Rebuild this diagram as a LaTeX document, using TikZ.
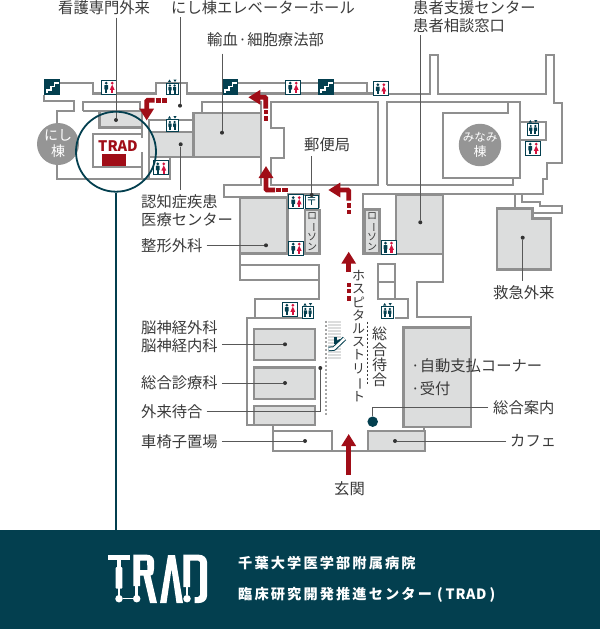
\documentclass[tikz,border=0pt]{standalone}
\usepackage{fontspec}
\setmainfont{Noto Sans CJK JP}
\usepackage{tikz}
\usetikzlibrary{arrows.meta}
\definecolor{wallcol}{HTML}{8F8F8F}
\definecolor{roomcol}{HTML}{DCDDDD}
\definecolor{tealcol}{HTML}{033F4F}
\definecolor{redcol}{HTML}{A00D17}
\definecolor{pinkcol}{HTML}{D3123E}
\definecolor{textcol}{HTML}{3A3A3A}
\newcommand{\choon}{\rotatebox[origin=c]{-90}{ー}}
\tikzset{
  wall/.style={draw=wallcol, line width=2.2pt, line join=miter},
  room/.style={draw=wallcol, fill=roomcol, line width=2.4pt},
  label/.style={font=\fontsize{15.3}{18}\selectfont, text=textcol, inner sep=0pt, align=left},
  vstack/.style={text=textcol, inner sep=0pt, align=center},
  leader/.style={draw=textcol!85, line width=0.8pt},
  dotmark/.style={circle, fill=black!80, inner sep=0pt, minimum size=4pt},
  redarrow/.style={draw=redcol, line width=4.8pt, rounded corners=1pt, -{Triangle[width=14pt,length=12pt]}},
  reddash/.style={draw=redcol, line width=4.4pt},
  wing/.style={circle, fill=wallcol!95, inner sep=0pt, minimum size=42pt, text=white, align=center},
  bandtext/.style={anchor=west, inner sep=0pt, text=white, font=\fontsize{14.2}{14.2}\selectfont\bfseries},
  toiletsign/.pic={
    \draw[tealcol, fill=white, line width=0.8pt] (0,0) rectangle (15,14);
    \fill[tealcol] (4.5,3.2) circle (1.5);
    \fill[tealcol, rounded corners=0.6pt] (2.6,5) rectangle (6.4,9.6);
    \fill[tealcol] (3.4,9) rectangle (5.6,12.8);
    \fill[pinkcol] (10.5,3.2) circle (1.5);
    \fill[pinkcol] (10.5,4.6) -- (12.9,9.8) -- (8.1,9.8) -- cycle;
    \fill[pinkcol] (9.4,9.5) rectangle (11.6,12.8);
  },
  liftsign/.pic={
    \draw[tealcol, fill=white, line width=0.7pt] (0,3.6) rectangle (11.5,15);
    \fill[tealcol] (3,0) -- (4.6,2.6) -- (1.4,2.6) -- cycle;
    \fill[tealcol] (8.5,2.6) -- (10.1,0) -- (6.9,0) -- cycle;
    \foreach \xm in {3.4,8.1} {
      \fill[tealcol] (\xm,6) circle (1.2);
      \fill[tealcol, rounded corners=0.5pt] (\xm-1.6,7.4) rectangle (\xm+1.6,11);
      \fill[tealcol] (\xm-1,10.5) rectangle (\xm+1,14.4);
    }
  },
  stairsign/.pic={
    \fill[tealcol] (0,0) rectangle (16,16);
    \draw[white, line width=1.3pt] (3,14) -- (3,11) -- (7,11) -- (7,7.5) -- (10.5,7.5) -- (10.5,4) -- (14.5,4);
  }
}

\begin{document}
\begin{tikzpicture}[x=1pt,y=-1pt]
  \useasboundingbox (0,0) rectangle (600,629);
  \fill[white] (0,0) rectangle (600,629);
  \fill[tealcol] (0,530) rectangle (600,629);

  % Rooms
  \draw[room] (99.3,111) rectangle (141.7,127.3);
  \draw[room] (149,131.7) rectangle (193.3,156.7);
  \draw[room] (193.3,112.7) rectangle (260.7,156.7);
  \draw[room] (240,197.3) rectangle (287.3,253.3);
  \draw[room] (305,210) rectangle (319.3,253.3);
  \draw[room] (365,209.3) rectangle (379.3,253.3);
  \draw[room] (395.7,195) rectangle (443,254);
  \draw[room] (496.7,208.3) -- (532.3,208.3) -- (532.3,218.3) -- (551,218.3) -- (551,269.3) -- (496.7,269.3) -- cycle;
  \draw[room] (254,329) rectangle (315,360);
  \draw[room] (254,367.3) rectangle (315,399);
  \draw[room] (254,406) rectangle (315,425);
  \draw[room] (403.3,327.3) rectangle (471,426.7);
  \draw[room] (367.7,431) rectangle (425,450.7);

  % West wing walls
  \draw[wall] (44,95) -- (44,101) -- (74.3,101) -- (74.3,111) -- (56.7,111) -- (56.7,179.3) -- (170,179.3) -- (170,156.7) -- (149,156.7);
  \draw[wall] (60,82.7) -- (92.7,82.7) -- (92.7,93.5) -- (156,93.5) -- (156,82.7) -- (186.7,82.7) -- (186.7,93.5) -- (373,93.5);
  \draw[wall] (238,82.7) -- (318,82.7);
  \draw[wall] (83.3,111) -- (83.3,102.3) -- (140,102.3) -- (140,111);
  \draw[wall] (83.3,111) -- (141.7,111) -- (141.7,138);
  \draw[wall] (141.7,152) -- (141.7,179.3);
  \draw[wall] (141.7,134.3) -- (93.3,134.3) -- (93.3,167.3) -- (141.7,167.3);
  \draw[wall] (149,179.3) -- (149,120) -- (193.3,120);
  \draw[wall] (202.3,112.7) -- (202.3,102.3) -- (260.7,102.3) -- (260.7,185) -- (224,185) -- (224,196.7) -- (240,196.7);

  % Centre and east walls
  \draw[wall] (270.7,102.3) -- (270.7,128.3) -- (284,128.3) -- (284,158.3) -- (270.7,158.3) -- (270.7,185) -- (377.7,185) -- (377.7,102.3) -- cycle;
  \draw[wall] (387.3,185) -- (387.3,102.3) -- (520,102.3) -- (520,178.3) -- (442.7,178.3) -- (442.7,113.3) -- (508.3,113.3) -- (508.3,102.3);
  \draw[wall] (387.3,185) -- (513.3,185) -- (513.3,178.3);
  \draw[wall] (520,121.7) -- (546,121.7) -- (546,140) -- (520,140);
  \draw[wall] (334,83.3) -- (366.7,83.3) -- (366.7,94) -- (430,94) -- (430,55) -- (438,55) -- (438,94) -- (545.7,94) -- (545.7,55) -- (554,55) -- (554,102.7) -- (562,102.7) -- (562,162.7) -- (547,162.7) -- (547,179) -- (543,179) -- (543,194) -- (363.3,194) -- (363.3,254) -- (443,254) -- (443,281.7) -- (416.7,281.7) -- (416.7,317.3) -- (471,317.3) -- (471,328);
  \draw[wall] (515,194) -- (515,208);
  \draw[wall] (521.7,194) -- (521.7,201.7) -- (540,201.7) -- (540,206) -- (562.3,206) -- (562.3,213.3) -- (532.3,213.3);

  % Lower block walls
  \draw[wall] (287.3,194.5) -- (319.3,194.5) -- (319.3,208);
  \draw[wall] (240,253.3) -- (240,280) -- (319.3,280) -- (319.3,265) -- (240,265);
  \draw[wall] (319.3,280) -- (319.3,299.3) -- (255,299.3) -- (255,318.3) -- (246.7,318.3) -- (246.7,425) -- (273.3,425) -- (273.3,450.7) -- (367.7,450.7);
  \draw[wall] (255,318.3) -- (313.7,318.3);
  \draw[wall] (273.3,431) -- (331.7,431) -- (331.7,450.7);
  \draw[wall] (424,426.7) -- (424,431);
  \draw[wall] (378.3,264.3) -- (395,264.3) -- (395,299.3) -- (378.3,299.3) -- cycle;
  \draw[wall] (378.3,281.7) -- (395,281.7);
  \draw[wall] (395,299.3) -- (407.7,299.3) -- (407.7,318.3) -- (395,318.3);

  % Signs
  \pic at (44,79) {stairsign};
  \pic at (222,79) {stairsign};
  \pic at (318,79) {stairsign};
  \pic at (101.7,80) {toiletsign};
  \pic at (285.7,80) {toiletsign};
  \pic at (373.3,81.5) {toiletsign};
  \pic at (153.3,160.7) {toiletsign};
  \pic at (525.7,141) {toiletsign};
  \pic at (288.7,194.5) {toiletsign};
  \pic at (288.7,241) {toiletsign};
  \pic at (381,240) {toiletsign};
  \pic at (282.3,302) {toiletsign};
  \pic at (166.5,79.5) {liftsign};
  \pic at (166.5,116) {liftsign};
  \pic at (527.3,120) {liftsign};
  \pic at (302,303) {liftsign};
  \pic at (381.7,303) {liftsign};
  \draw[tealcol, fill=white, line width=0.7pt] (305,195) rectangle (318,208);
  \node[font=\fontsize{11}{11}\selectfont, text=tealcol, inner sep=0pt] (post) at (311.7,201.5) {〒};

  % Escalator
  \fill[roomcol] (328,320.7) rectangle (341,360);
  \foreach \yy in {323,326,...,359} {
    \draw[white, line width=0.6pt] (328,\yy) -- (341,\yy);
  }
  \draw[tealcol, line width=4.6pt, line join=round] (328.5,349) -- (334,348.5) -- (344.5,338.5);
  \draw[white, line width=2.6pt, line join=round] (328.5,349) -- (334,348.5) -- (344.5,338.5);
  \fill[tealcol] (334,337) rectangle (336.5,344);
  \fill[tealcol] (336,341) -- (340,339) -- (340,341) -- (336,344) -- cycle;
  \draw[wallcol!80, line width=1.3pt, dash pattern=on 2.2pt off 1.8pt] (326,320.7) -- (326,415);
  \draw[textcol, line width=0.7pt, dash pattern=on 2.4pt off 1.6pt] (367.3,321.7) -- (367.3,385);

  % Wing badges
  \node[wing, font=\fontsize{14}{16}\selectfont] (nishi) at (58,144) {にし\\棟};
  \node[wing, font=\fontsize{13}{14.5}\selectfont] (minami) at (480,145) {\fontsize{11.5}{14.5}\selectfont みなみ\\棟};

  % TRAD room
  \node[font=\fontsize{14.5}{14.5}\selectfont\bfseries, text=redcol, inner sep=0pt] (tradroom) at (118,146) {TRAD};
  \fill[redcol] (102,154.3) rectangle (126,166);

  % Lawson
  \node[vstack, font=\fontsize{10}{10.4}\selectfont] (lawsonW) at (312.2,231.5) {ロ\\\choon\\ソ\\ン};
  \node[vstack, font=\fontsize{10}{10.4}\selectfont] (lawsonE) at (372.2,231.5) {ロ\\\choon\\ソ\\ン};

  % Labels
  \node[label, anchor=north west] (kango) at (58,0) {看護専門外来};
  \node[label, anchor=north west] (elehall) at (171,0) {にし棟エレベーターホール};
  \node[label, anchor=north west] (yuketsu) at (207,32) {輸血\hspace{0.5pt}·\hspace{0.5pt}細胞療法部};
  \node[label, anchor=north west] (kanja) at (413,0) {患者支援センター\\患者相談窓口};
  \node[label, anchor=west] (yubin) at (304,145) {郵便局};
  \node[label, anchor=north west] (ninchi) at (141,194) {認知症疾患\\医療センター};
  \node[label, anchor=west] (seikei) at (141,246) {整形外科};
  \node[label, anchor=north west] (noushin) at (141,320) {脳神経外科\\脳神経内科};
  \node[label, anchor=west] (sougou) at (141,383) {総合診療科};
  \node[label, anchor=west] (gairai) at (141,411.7) {外来待合};
  \node[label, anchor=west] (kuruma) at (141,442) {車椅子置場};
  \node[label, anchor=west] (genkan) at (334,489) {玄関};
  \node[label, anchor=west] (kyukyu) at (493,293) {救急外来};
  \node[label, anchor=north west] (jidou) at (411,358) {·自動支払コーナー\\[5.5pt]·受付};
  \node[label, anchor=west] (annai) at (493,407.7) {総合案内};
  \node[label, anchor=west] (cafe) at (510,441) {カフェ};
  \node[vstack, font=\fontsize{13}{13.2}\selectfont] (street) at (358.5,336) {ホ\\ス\\ピ\\タ\\ル\\ス\\ト\\リ\\\choon\\ト};
  \node[vstack, font=\fontsize{15}{15.4}\selectfont] (machiai) at (379.5,357) {総\\合\\待\\合};

  % Leaders
  \node[dotmark] (ptKango) at (116,120) {};
  \node[dotmark] (ptEle) at (180,105.7) {};
  \node[dotmark] (ptYuketsu) at (222,132.7) {};
  \node[dotmark] (ptNinchi) at (180.7,144.3) {};
  \node[dotmark] (ptYubin) at (311.7,195) {};
  \node[dotmark] (ptKanja) at (420.3,222.3) {};
  \node[dotmark] (ptKyukyu) at (522.7,237.7) {};
  \node[dotmark] (ptSeikei) at (266,245.3) {};
  \node[dotmark] (ptNoushin) at (285,344.3) {};
  \node[dotmark] (ptSougou) at (285,383) {};
  \node[dotmark] (ptGairai) at (320.3,368) {};
  \node[dotmark] (ptKuruma) at (305,441) {};
  \node[dotmark] (ptCafe) at (395,441) {};
  \node[circle, fill=tealcol, inner sep=0pt, minimum size=10.5pt] (ptAnnai) at (372.7,421.7) {};
  \draw[leader, shorten <=3pt] (kango.south -| ptKango) -- (ptKango);
  \draw[leader, shorten <=3pt] (elehall.south -| ptEle) -- (ptEle);
  \draw[leader, shorten <=7pt] (yuketsu.south -| ptYuketsu) -- (ptYuketsu);
  \draw[leader, shorten >=4pt] (ptNinchi) -- (ptNinchi |- ninchi.north);
  \draw[leader, shorten <=4pt] (yubin.south -| ptYubin) -- (ptYubin);
  \draw[leader, shorten <=3pt] (kanja.south -| ptKanja) -- (ptKanja);
  \draw[leader, shorten >=5pt] (ptKyukyu) -- (ptKyukyu |- kyukyu.north);
  \draw[leader, shorten <=4pt] (seikei.east |- ptSeikei) -- (ptSeikei);
  \draw[leader, shorten <=4pt] (noushin.east |- ptNoushin) -- (ptNoushin);
  \draw[leader, shorten <=4pt] (sougou.east |- ptSougou) -- (ptSougou);
  \draw[leader, shorten <=4pt] (gairai.east) -- (ptGairai |- gairai.east) -- (ptGairai);
  \draw[leader, shorten <=4pt] (kuruma.east |- ptKuruma) -- (ptKuruma);
  \draw[leader, shorten <=4pt] (cafe.west |- ptCafe) -- (ptCafe);
  \draw[leader, shorten <=5pt] (annai.west) -- (ptAnnai |- annai.west) -- (ptAnnai);

  % Red arrows
  \draw[redarrow] (154.5,100.3) -- (146.7,100.3) -- (146.7,120.5);
  \draw[reddash] (155.7,100.3) -- (160.7,100.3);
  \draw[reddash] (162.3,100.3) -- (167.3,100.3);
  \draw[redarrow] (265.7,108.5) -- (265.7,97.3) -- (248.3,97.3);
  \draw[reddash] (265.7,110) -- (265.7,114.4);
  \draw[reddash] (265.7,116) -- (265.7,120.7);
  \draw[redarrow] (275,190) -- (266,190) -- (266,166);
  \draw[reddash] (276,190) -- (280.7,190);
  \draw[reddash] (282.3,190) -- (288,190);
  \draw[redarrow] (348.7,200.5) -- (348.7,190) -- (328.3,190);
  \draw[reddash] (348.7,203) -- (348.7,207.7);
  \draw[reddash] (348.7,209.5) -- (348.7,214);
  \draw[redarrow] (348.7,272) -- (348.7,251.7);
  \draw[reddash] (348.7,283) -- (348.7,287);
  \draw[reddash] (348.7,289) -- (348.7,293);
  \draw[reddash] (348.7,296) -- (348.7,300.7);
  \draw[redarrow] (348.7,475) -- (348.7,434);

  % TRAD circle
  \node[circle, draw=tealcol, line width=1.8pt, inner sep=0pt, minimum size=80pt] (tradring) at (116,151.7) {};
  \coordinate (bandtop) at (116,530);
  \draw[tealcol, line width=1.8pt] (tradring.south) -- (bandtop);

  % TRAD logo
  \fill[white] (107.7,554.7) rectangle (130,560.3);
  \fill[white] (117,560) rectangle (120.7,568);
  \fill[white, rounded corners=0.8pt] (115.7,567) rectangle (122.3,588.7);
  \fill[white] (118,588) rectangle (120,596);
  \fill[white, even odd rule] (133.3,554.7) -- (147,554.7) to[out=0,in=90] (154,561) -- (154,569) to[out=-90,in=0] (150.5,575.5) -- (157,603) -- (150,603) -- (143.5,575.5) -- (140,575.5) -- (140,586) -- (133.3,586) -- cycle
    (140,560.5) -- (147,560.5) -- (147.5,570) -- (140,570) -- cycle;
  \fill[white] (134.9,586) rectangle (138.4,596);
  \fill[white] (160,603) -- (168,555) -- (175,555) -- (183,603) -- (176.5,603) -- (171.5,569) -- (166.5,603) -- cycle;
  \fill[white] (183.3,554.7) -- (199,554.7) to[out=0,in=90] (207,562) -- (207,596) to[out=-90,in=0] (199,603) -- (194.5,603) -- (194.5,597) -- (198,597) -- (200,595) -- (200,562) -- (198,560.5) -- (190,560.5) -- (190,587) -- (183.3,587) -- cycle;
  \fill[white] (185.6,587) rectangle (187.8,595);
  \node[circle, fill=white, inner sep=0pt, minimum size=7.5pt] (logoA) at (119,598.7) {};
  \node[circle, fill=white, inner sep=0pt, minimum size=7.5pt] (logoB) at (136.7,598.7) {};
  \node[circle, fill=white, inner sep=0pt, minimum size=7.5pt] (logoC) at (187,598.7) {};
  \draw[white, line width=1.2pt] (logoA) -- (logoB);

  % Band text
  \node[bandtext] (hospital) at (238,563.5) {\addfontfeature{LetterSpace=15}千葉大学医学部附属病院};
  \node[bandtext] (center) at (238,595) {{\addfontfeature{LetterSpace=15}臨床研究開発推進センター}\hspace{5pt}(\hspace{3pt}{\addfontfeature{LetterSpace=5}TRAD}\hspace{3pt})};
\end{tikzpicture}
\end{document}
